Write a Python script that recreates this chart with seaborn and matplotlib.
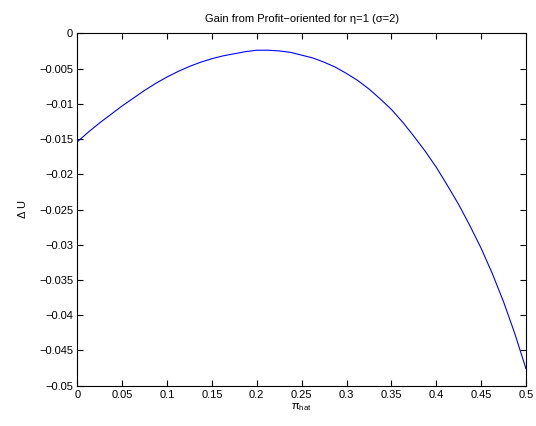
import numpy as np
import pandas as pd
import matplotlib
matplotlib.use("Agg")
import matplotlib.pyplot as plt
from matplotlib.ticker import FixedLocator, FuncFormatter
import seaborn as sns

# Data
pi_hat = [0.0000, 0.0125, 0.0250, 0.0375, 0.0500, 0.0625, 0.0750, 0.0875, 0.1000,
          0.1125, 0.1250, 0.1375, 0.1500, 0.1625, 0.1750, 0.1875, 0.2000, 0.2125,
          0.2250, 0.2375, 0.2500, 0.2625, 0.2750, 0.2875, 0.3000, 0.3125, 0.3250,
          0.3375, 0.3500, 0.3625, 0.3750, 0.3875, 0.4000, 0.4125, 0.4250, 0.4375,
          0.4500, 0.4625, 0.4750, 0.4875, 0.5000]
delta_u = [-0.0154, -0.0140, -0.0127, -0.0115, -0.0103, -0.0092, -0.0081, -0.0071,
           -0.0062, -0.0054, -0.0047, -0.0041, -0.0036, -0.0032, -0.0029, -0.0026,
           -0.0024, -0.0024, -0.0025, -0.0027, -0.0031, -0.0035, -0.0041, -0.0048,
           -0.0057, -0.0067, -0.0079, -0.0093, -0.0108, -0.0126, -0.0146, -0.0167,
           -0.0190, -0.0216, -0.0243, -0.0273, -0.0305, -0.0341, -0.0381, -0.0426,
           -0.0476]
x_ticks = [0, 0.05, 0.1, 0.15, 0.2, 0.25, 0.3, 0.35, 0.4, 0.45, 0.5]
y_ticks = [0, -0.005, -0.01, -0.015, -0.02, -0.025, -0.03, -0.035, -0.04, -0.045, -0.05]
title = "Gain from Profit\u2212oriented for \u03b7=1 (\u03c3=2)"

sns.set_theme(style="white")
plt.rcParams["font.family"] = ["Liberation Sans", "DejaVu Sans"]
plt.rcParams["mathtext.fontset"] = "custom"
plt.rcParams["mathtext.rm"] = "Liberation Sans"
plt.rcParams["mathtext.it"] = "Liberation Sans:italic"
plt.rcParams["axes.unicode_minus"] = True

df = pd.DataFrame({"pi_hat": pi_hat, "delta_u": delta_u})

fig = plt.figure(figsize=(5.36, 4.26), dpi=100)
ax = fig.add_axes([77.3 / 536, (426 - 385.7) / 426, 448.7 / 536, 352.4 / 426])
sns.lineplot(data=df, x="pi_hat", y="delta_u", ax=ax, color=(0, 0, 1), linewidth=0.8)

ax.set_xlim(0, 0.5)
ax.set_ylim(-0.05, 0)
ax.xaxis.set_major_locator(FixedLocator(x_ticks))
ax.yaxis.set_major_locator(FixedLocator(y_ticks))
fmt = FuncFormatter(lambda v, p: ("%g" % v).replace("-", "\u2212") if abs(v) > 1e-12 else "0")
ax.xaxis.set_major_formatter(fmt)
ax.yaxis.set_major_formatter(fmt)
ax.tick_params(direction="in", length=4, width=0.8, colors="black", labelsize=8,
               top=True, right=True, bottom=True, left=True, pad=3)
for s in ax.spines.values():
    s.set_visible(True)
    s.set_color("black")
    s.set_linewidth(0.8)

ax.set_title(title, fontsize=8, pad=8, color="black")
ax.set_xlabel("\u03c0$_{\\mathrm{hat}}$", fontsize=8, labelpad=1, color="black")
ax.set_ylabel("\u0394 U", fontsize=8, labelpad=8, color="black")

fig.savefig("out.png", dpi=100, facecolor="white")
